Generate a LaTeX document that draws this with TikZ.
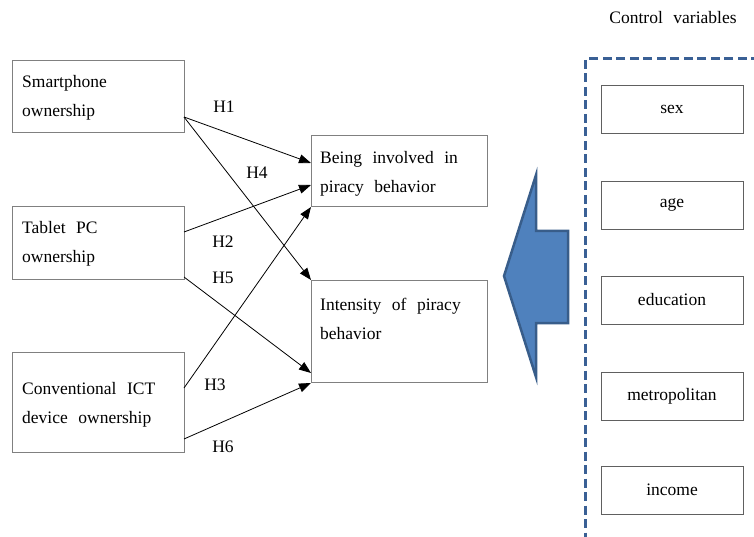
\documentclass[tikz,border=0pt]{standalone}
\usepackage{fontspec}
\setmainfont{Liberation Serif}
\usetikzlibrary{arrows.meta}
\definecolor{boxgray}{HTML}{808080}
\definecolor{ctrlgray}{HTML}{606060}
\definecolor{dashblue}{HTML}{3A6095}
\definecolor{arrowfill}{HTML}{4F81BD}
\definecolor{arrowedge}{HTML}{385D8A}
\newcommand\widesp{\spaceskip=0.6em plus 0.1em\relax}
\tikzset{
  txt/.style={font=\fontsize{17.5}{28.5}\selectfont\widesp, inner sep=0pt},
  leftbox/.style={draw=boxgray, line width=1pt, minimum width=172pt, inner sep=0pt},
  rightbox/.style={draw=boxgray, line width=1pt, minimum width=176pt, inner sep=0pt},
  ctrlbox/.style={draw=ctrlgray, line width=0.9pt, minimum width=142pt, minimum height=48pt, inner sep=0pt, txt},
  hyp/.style={-{Triangle[length=12pt,width=9pt]}, line width=0.8pt, black},
  hlabel/.style={txt}
}
\begin{document}
\begin{tikzpicture}[x=1pt,y=-1pt]
\useasboundingbox (0,0) rectangle (754,537);
\clip (0,0) rectangle (754,537);
% left boxes
\node[leftbox, minimum height=72pt] (sp) at (98,97) {};
\node[leftbox, minimum height=72pt] (tp) at (98,243) {};
\node[leftbox, minimum height=100pt] (ct) at (98,402) {};
\node[txt, anchor=west, align=left] (spt) at (22,98) {Smartphone\\ownership};
\node[txt, anchor=west, align=left] (tpt) at (22,244) {Tablet PC\\ownership};
\node[txt, anchor=west, align=left] (ctt) at (22,405) {Conventional ICT\\device ownership};
% right boxes
\node[rightbox, minimum height=71pt] (bi) at (399,171.5) {};
\node[rightbox, minimum height=102pt] (in) at (399,331) {};
\node[txt, anchor=west, align=left] (bit) at (320,174) {Being involved in\\piracy behavior};
\node[txt, anchor=west, align=left] (int) at (320,319) {Intensity of piracy\\behavior};
% hypothesis arrows
\coordinate (sp1) at (184,117);
\coordinate (tp1) at (184,232);
\coordinate (tp2) at (184,277);
\coordinate (ct1) at (184,388);
\coordinate (ct2) at (184,439);
\coordinate (bi1) at (311,163);
\coordinate (bi2) at (311,185);
\coordinate (bi3) at (311,207);
\coordinate (in1) at (311,280);
\coordinate (in2) at (311,373);
\coordinate (in3) at (311,383);
\draw[hyp] (sp1) -- (bi1);
\draw[hyp] (sp1) -- (in1);
\draw[hyp] (tp1) -- (bi2);
\draw[hyp] (tp2) -- (in2);
\draw[hyp] (ct1) -- (bi3);
\draw[hyp] (ct2) -- (in3);
\node[hlabel] (h1) at (224,107) {H1};
\node[hlabel] (h4) at (257,173) {H4};
\node[hlabel] (h2) at (223,242) {H2};
\node[hlabel] (h5) at (223,278) {H5};
\node[hlabel] (h3) at (215,385) {H3};
\node[hlabel] (h6) at (223,447) {H6};
% big arrow
\draw[fill=arrowfill, draw=arrowedge, line width=2.5pt, line join=miter]
  (504,276) -- (536,175) -- (536,231) -- (568,231) -- (568,323) -- (536,323) -- (536,377) -- cycle;
% control variables
\node[txt] (cv) at (673,18) {Control variables};
\draw[dashblue, line width=3pt, dash pattern=on 9pt off 4.5pt] (760,59) -- (585.5,59) -- (585.5,545);
\node[ctrlbox] (sex) at (672,109) {sex};
\node[ctrlbox] (age) at (672,205) {age};
\node[ctrlbox] (edu) at (672,300) {education};
\node[ctrlbox] (met) at (672,396) {metropolitan};
\node[ctrlbox] (inc) at (672,490) {income};
\end{tikzpicture}
\end{document}
